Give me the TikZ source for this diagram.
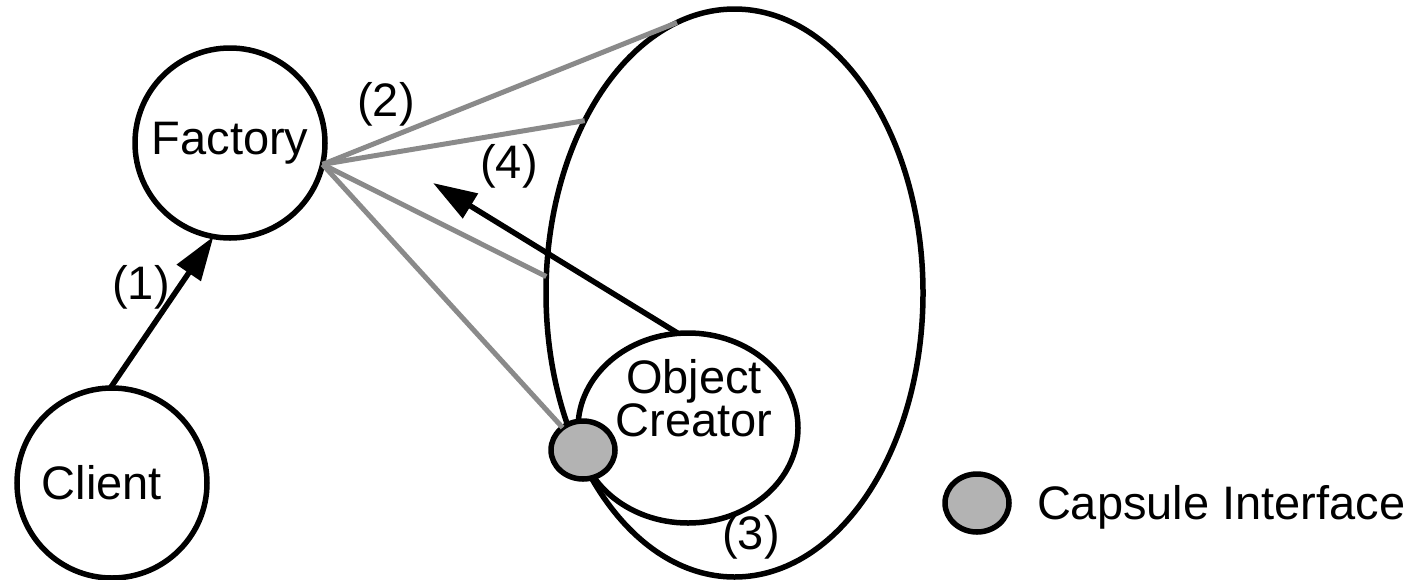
\documentclass[tikz,border=0pt]{standalone}
\usepackage{fontspec}
\setmainfont{Liberation Sans}
\usetikzlibrary{arrows.meta,shapes.geometric}
\definecolor{linegray}{HTML}{8A8A8A}
\definecolor{capfill}{HTML}{B3B3B3}
\begin{document}
\begin{tikzpicture}[x=1pt,y=-1pt,
  every node/.style={inner sep=0pt, outer sep=0pt},
  txt/.style={font=\fontsize{47}{41}\selectfont},
  bubble/.style={draw, line width=5.5pt, circle, minimum size=190pt, txt},
  oval/.style={draw, line width=5.5pt, ellipse},
  iface/.style={draw, line width=5.5pt, ellipse, fill=capfill, minimum width=64pt, minimum height=58pt},
  wire/.style={draw=linegray, line width=5pt},
  msg/.style={draw, line width=5.5pt, -{Triangle[length=44pt,width=28pt]}},
  num/.style={txt}]
\useasboundingbox (0,0) rectangle (1412,579);

% nodes
\node[bubble] (factory) at (230,143) {Factory};
\node[bubble] (client) at (112,483) {Client\hspace*{20pt}};
\coordinate (hub) at (factory.-13);
\node[oval, minimum width=377pt, minimum height=568pt] (caps) at (734.5,293) {};

% gray wires
\draw[wire] (hub) -- (caps.102.5);
\draw[wire] (hub) -- (caps.131.7);
\draw[wire] (hub) -- (caps.175.1);

\node[oval, minimum width=220pt, minimum height=190pt] (oc) at (688,428) {};
\node[txt, align=center] (octext) at (694,398) {Object\\Creator};
\node[iface] (port) at (583,450) {};
\draw[wire] (hub) -- (port);

% arrows
\coordinate (tip4) at (433,183);
\draw[msg] (client.91) -- (factory.-100);
\draw[msg] (oc.96) -- (tip4);

% step labels
\node[num] (l1) at (141,287) {(1)};
\node[num] (l2) at (386,104) {(2)};
\node[num] (l3) at (751,537) {(3)};
\node[num] (l4) at (509,166) {(4)};

% legend
\node[iface] (legport) at (977,503) {};
\node[txt, anchor=base west] (legtext) at (1037,519) {Capsule Interface};
\end{tikzpicture}
\end{document}
